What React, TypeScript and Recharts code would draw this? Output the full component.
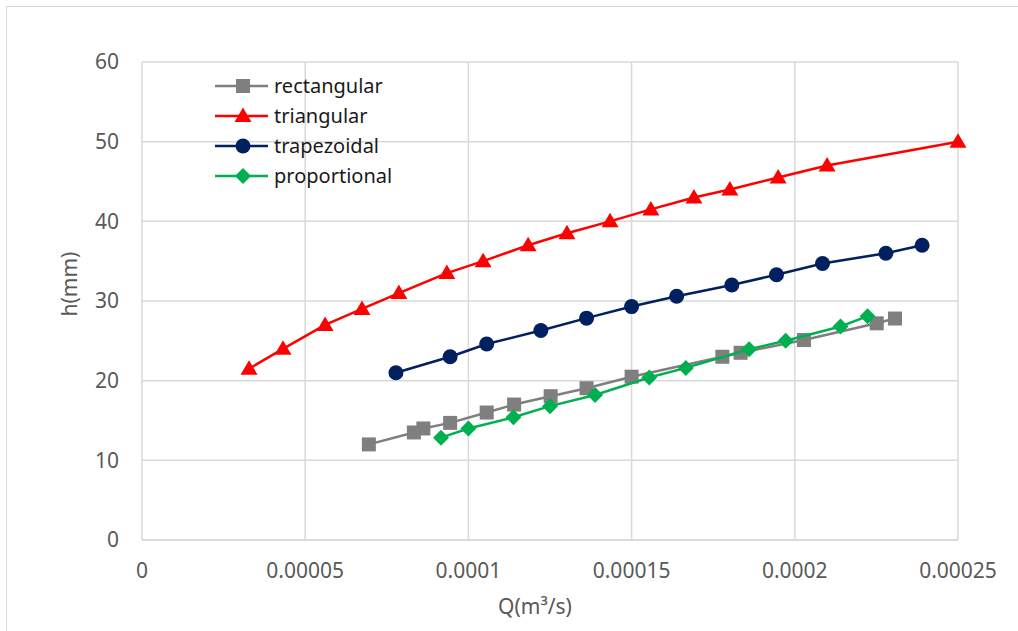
import React from "react";
import { ScatterChart, Scatter, XAxis, YAxis, CartesianGrid, Label } from "recharts";

const xTicks = [0, 0.00005, 0.0001, 0.00015, 0.0002, 0.00025];
const xTickLabels = ["0", "0.00005", "0.0001", "0.00015", "0.0002", "0.00025"];
const yTicks = [0, 10, 20, 30, 40, 50, 60];

const rectQ = [6.95e-5, 8.33e-5, 8.62e-5, 9.44e-5, 1.056e-4, 1.14e-4, 1.252e-4, 1.362e-4, 1.5e-4, 1.778e-4, 1.834e-4, 2.028e-4, 2.251e-4, 2.307e-4];
const rectH = [12.0, 13.5, 14.0, 14.7, 16.0, 17.0, 18.05, 19.05, 20.5, 23.0, 23.5, 25.1, 27.2, 27.8];

const triQ = [3.28e-5, 4.32e-5, 5.61e-5, 6.74e-5, 7.87e-5, 9.34e-5, 1.045e-4, 1.183e-4, 1.302e-4, 1.434e-4, 1.559e-4, 1.691e-4, 1.801e-4, 1.949e-4, 2.099e-4, 2.5e-4];
const triH = [21.5, 24, 27, 29, 31, 33.5, 35, 37, 38.5, 40, 41.5, 43, 44, 45.5, 47, 50];

const trapQ = [7.78e-5, 9.44e-5, 1.056e-4, 1.222e-4, 1.362e-4, 1.5e-4, 1.638e-4, 1.807e-4, 1.944e-4, 2.085e-4, 2.279e-4, 2.39e-4];
const trapH = [21.0, 23.0, 24.6, 26.3, 27.85, 29.3, 30.6, 32.0, 33.3, 34.7, 36.0, 37.0];

const propQ = [9.16e-5, 1.0e-4, 1.138e-4, 1.25e-4, 1.388e-4, 1.554e-4, 1.666e-4, 1.86e-4, 1.972e-4, 2.14e-4, 2.223e-4];
const propH = [12.85, 14.0, 15.4, 16.8, 18.2, 20.4, 21.6, 23.95, 25.0, 26.8, 28.1];

const zip = (q: number[], h: number[]) => q.map((v, i) => ({ q: v, h: h[i] }));

const FONT = "'Noto Sans', 'Open Sans', sans-serif";
const GRID = "#d9d9d9";
const TEXT = "#595959";

const C = { rect: "#7f7f7f", tri: "#ff0000", trap: "#002060", prop: "#00b050" };

function Square({ cx, cy, fill }: any) {
  return <rect x={cx - 7} y={cy - 7} width={14} height={14} fill={fill} />;
}
function Triangle({ cx, cy, fill }: any) {
  return <path d={`M${cx},${cy - 8.5} L${cx + 8.5},${cy + 6} L${cx - 8.5},${cy + 6} Z`} fill={fill} />;
}
function Dot({ cx, cy, fill }: any) {
  return <circle cx={cx} cy={cy} r={7.5} fill={fill} />;
}
function Diamond({ cx, cy, fill }: any) {
  return <path d={`M${cx},${cy - 8} L${cx + 8},${cy} L${cx},${cy + 8} L${cx - 8},${cy} Z`} fill={fill} />;
}

const legendItems = [
  { name: "rectangular", color: C.rect, Shape: Square },
  { name: "triangular", color: C.tri, Shape: Triangle },
  { name: "trapezoidal", color: C.trap, Shape: Dot },
  { name: "proportional", color: C.prop, Shape: Diamond },
];

function LegendBox() {
  return (
    <div style={{ position: "absolute", left: 212, top: 71, fontFamily: FONT, fontSize: 20, color: "#1a1a1a" }}>
      {legendItems.map(({ name, color, Shape }) => (
        <div key={name} style={{ display: "flex", alignItems: "center", height: 30 }}>
          <svg width={60} height={30}>
            <line x1={3} x2={56} y1={15} y2={15} stroke={color} strokeWidth={2.5} />
            <Shape cx={31} cy={15} fill={color} />
          </svg>
          <span style={{ marginLeft: 2, lineHeight: "30px" }}>{name}</span>
        </div>
      ))}
    </div>
  );
}

export default function App() {
  return (
    <div style={{ position: "absolute", left: 0, top: 0, width: 1018, height: 631, overflow: "hidden", background: "#fff" }}>
      <div style={{ position: "absolute", left: 6, top: 6, width: 1200, height: 800, border: `1.5px solid ${GRID}` }} />
      <ScatterChart width={1018} height={631} margin={{ top: 62, right: 60, bottom: 51, left: 62 }}>
        <CartesianGrid stroke={GRID} strokeWidth={1.5} />
        <XAxis
          type="number"
          dataKey="q"
          domain={[0, 0.00025]}
          ticks={xTicks}
          tickFormatter={(v) => xTickLabels[xTicks.indexOf(v)] ?? String(v)}
          height={40}
          tickLine={false}
          axisLine={{ stroke: GRID, strokeWidth: 1.5 }}
          tickSize={0}
          tickMargin={23}
          tick={{ fill: TEXT, fontSize: 21, fontFamily: FONT }}
        >
          <Label
            content={() => (
              <text x={535} y={614} textAnchor="middle" fill={TEXT} fontSize={21} fontFamily={FONT}>
                Q(m³/s)
              </text>
            )}
          />
        </XAxis>
        <YAxis
          type="number"
          dataKey="h"
          domain={[0, 60]}
          ticks={yTicks}
          width={80}
          tickLine={false}
          axisLine={false}
          tickSize={0}
          tickMargin={23}
          tick={{ fill: TEXT, fontSize: 21, fontFamily: FONT }}
        >
          <Label
            content={() => (
              <text
                x={77}
                y={284}
                textAnchor="middle"
                transform="rotate(-90 77 284)"
                fill={TEXT}
                fontSize={21}
                fontFamily={FONT}
              >
                h(mm)
              </text>
            )}
          />
        </YAxis>
        <Scatter name="rectangular" data={zip(rectQ, rectH)} fill={C.rect} line={{ stroke: C.rect, strokeWidth: 2.5 }} lineType="joint" shape={Square} isAnimationActive={false} />
        <Scatter name="triangular" data={zip(triQ, triH)} fill={C.tri} line={{ stroke: C.tri, strokeWidth: 2.5 }} lineType="joint" shape={Triangle} isAnimationActive={false} />
        <Scatter name="trapezoidal" data={zip(trapQ, trapH)} fill={C.trap} line={{ stroke: C.trap, strokeWidth: 2.5 }} lineType="joint" shape={Dot} isAnimationActive={false} />
        <Scatter name="proportional" data={zip(propQ, propH)} fill={C.prop} line={{ stroke: C.prop, strokeWidth: 2.5 }} lineType="joint" shape={Diamond} isAnimationActive={false} />
      </ScatterChart>
      <LegendBox />
    </div>
  );
}
